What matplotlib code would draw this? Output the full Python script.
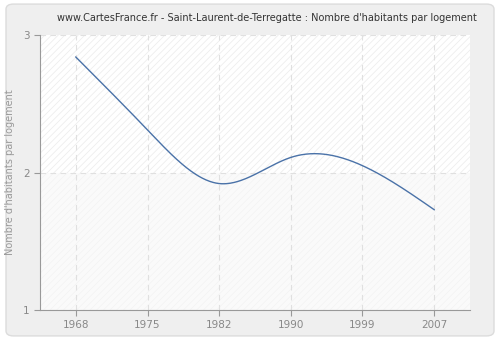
import numpy as np
import matplotlib
matplotlib.use("Agg")
import matplotlib.pyplot as plt
from matplotlib.patches import FancyBboxPatch, Rectangle

years = ["1968", "1975", "1982", "1990", "1999", "2007"]
values = [2.84, 2.31, 1.92, 2.11, 2.05, 1.73]
yticks = [1, 2, 3]
title = "www.CartesFrance.fr - Saint-Laurent-de-Terregatte : Nombre d'habitants par logement"
ylabel = "Nombre d'habitants par logement"


def natural_spline(x, y, xs):
    x = np.asarray(x, float)
    y = np.asarray(y, float)
    n = len(x)
    h = np.diff(x)
    A = np.zeros((n, n))
    b = np.zeros(n)
    A[0, 0] = A[-1, -1] = 1
    for i in range(1, n - 1):
        A[i, i - 1] = h[i - 1]
        A[i, i] = 2 * (h[i - 1] + h[i])
        A[i, i + 1] = h[i]
        b[i] = 3 * ((y[i + 1] - y[i]) / h[i] - (y[i] - y[i - 1]) / h[i - 1])
    c = np.linalg.solve(A, b)
    out = np.empty_like(xs)
    for k, t in enumerate(xs):
        i = min(max(np.searchsorted(x, t) - 1, 0), n - 2)
        d = t - x[i]
        bb = (y[i + 1] - y[i]) / h[i] - h[i] * (2 * c[i] + c[i + 1]) / 3
        dd = (c[i + 1] - c[i]) / (3 * h[i])
        out[k] = y[i] + bb * d + c[i] * d ** 2 + dd * d ** 3
    return out


plt.rcParams["hatch.linewidth"] = 0.6

fig = plt.figure(figsize=(5, 3.4), dpi=100)
fig.patch.set_facecolor("white")
fig.patches.append(FancyBboxPatch((0.012, 0.012), 0.976, 0.976,
                                  boxstyle="round,pad=0,rounding_size=0.015",
                                  transform=fig.transFigure, facecolor="#efefef",
                                  edgecolor="#dcdcdc", linewidth=1, zorder=-10))

ax = fig.add_axes([0.08, 0.088, 0.86, 0.809])
ax.set_facecolor("#ffffff")
xpos = np.arange(len(years))
ax.set_xlim(-0.5, len(years) - 0.5)
ax.set_ylim(1, 3)

# hatched background, fainter in the lower band
ax.add_patch(Rectangle((-0.5, 1), len(years), 2, facecolor="none",
                       edgecolor="#eeeeee", hatch="/////", linewidth=0, zorder=0))
ax.add_patch(Rectangle((-0.5, 1), len(years), 1, facecolor="#f8f8f8",
                       edgecolor="none", alpha=0.6, linewidth=0, zorder=0.5))

xs = np.linspace(0, len(years) - 1, 400)
ax.plot(xs, natural_spline(xpos, values, xs), color="#4a72a8", linewidth=1, zorder=3)

ax.set_xticks(xpos)
ax.set_xticklabels(years)
ax.set_yticks(yticks)
ax.grid(True, color="#e0e0e0", linestyle=(0, (5, 4)), linewidth=0.8)
ax.set_axisbelow(True)
for s in ("top", "right"):
    ax.spines[s].set_visible(False)
for s in ("left", "bottom"):
    ax.spines[s].set_color("#999999")
ax.tick_params(colors="#999999", labelcolor="#888888", labelsize=7.5, length=4)
ax.set_ylabel(ylabel, color="#999999", fontsize=7, labelpad=6)
fig.text(0.534, 0.948, title, ha="center", va="center", fontsize=7, color="#333333")

fig.savefig("out.png", dpi=100)
